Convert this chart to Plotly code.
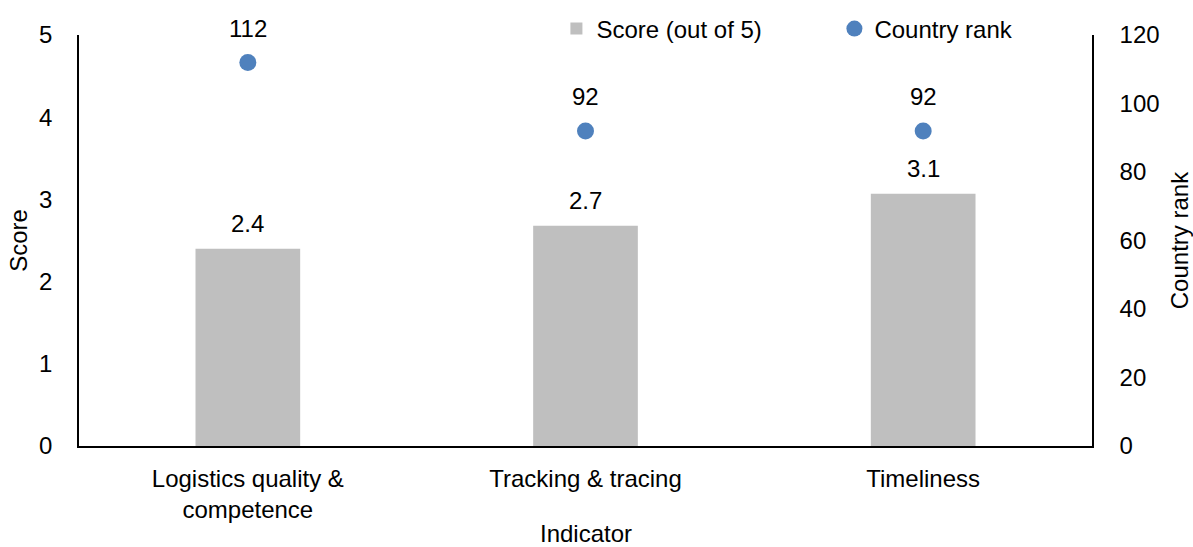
import plotly.graph_objects as go

# Indicator scores (out of 5) and country ranks
indicators = ["Logistics quality &<br>competence", "Tracking & tracing", "Timeliness"]
scores = [2.40, 2.68, 3.07]
ranks = [112, 92, 92]

BAR_COLOR = "#BFBFBF"
DOT_COLOR = "#4F81BD"
FONT = "Liberation Sans, Arial, sans-serif"
FS = 24

W, H = 1193, 547
M_L, M_R, M_T, M_B = 79, 101, 35, 101
PLOT_H = H - M_T - M_B

fig = go.Figure()
fig.add_trace(go.Bar(
    x=indicators, y=scores, name="Score (out of 5)",
    marker=dict(color=BAR_COLOR, line=dict(width=0)),
    yaxis="y",
))
fig.add_trace(go.Scatter(
    x=indicators, y=ranks, name="Country rank", mode="markers",
    marker=dict(color=DOT_COLOR, size=17),
    yaxis="y2",
))

annotations = []
for cat, s in zip(indicators, scores):
    annotations.append(dict(
        x=cat, y=s, xref="x", yref="y", text=f"{s:.1f}", showarrow=False,
        yanchor="middle", yshift=25, font=dict(family=FONT, size=FS, color="black"),
    ))
for cat, r in zip(indicators, ranks):
    annotations.append(dict(
        x=cat, y=r, xref="x", yref="y2", text=f"{r}", showarrow=False,
        yanchor="middle", yshift=34, font=dict(family=FONT, size=FS, color="black"),
    ))
# x-axis title, placed below the category labels
annotations.append(dict(
    x=0.5, y=-(533 - (H - M_B)) / PLOT_H, xref="paper", yref="paper",
    text="Indicator", showarrow=False, xanchor="center", yanchor="middle",
    font=dict(family=FONT, size=FS, color="black"),
))

fig.update_layout(
    width=W, height=H,
    margin=dict(l=M_L, r=M_R, t=M_T, b=M_B, autoexpand=False),
    paper_bgcolor="white", plot_bgcolor="white",
    font=dict(family=FONT, size=FS, color="black"),
    bargap=0.69,
    showlegend=True,
    legend=dict(
        orientation="h", xref="container", yref="container",
        x=0.4664, y=1 - 29 / H, xanchor="left", yanchor="middle",
        font=dict(family=FONT, size=FS), itemwidth=30,
        entrywidth=233, entrywidthmode="pixels",
        bgcolor="rgba(0,0,0,0)",
    ),
    xaxis=dict(
        showline=True, linecolor="black", linewidth=1.5, ticks="",
        showgrid=False, automargin=False, ticklabelstandoff=10,
    ),
    yaxis=dict(
        range=[0, 5], dtick=1, showline=True, linecolor="black", linewidth=1.5,
        ticks="", showgrid=False, zeroline=False, automargin=False,
        title=dict(text="Score", standoff=5,
                   font=dict(family=FONT, size=FS, color="black")),
        ticklabelstandoff=20,
    ),
    yaxis2=dict(
        range=[0, 120], dtick=20, overlaying="y", side="right",
        showline=True, linecolor="black", linewidth=1.5,
        ticks="", showgrid=False, zeroline=False, automargin=False,
        title=dict(text="Country rank", standoff=14,
                   font=dict(family=FONT, size=FS, color="black")),
        ticklabelstandoff=21,
    ),
    annotations=annotations,
)

fig.write_html("out.html")
